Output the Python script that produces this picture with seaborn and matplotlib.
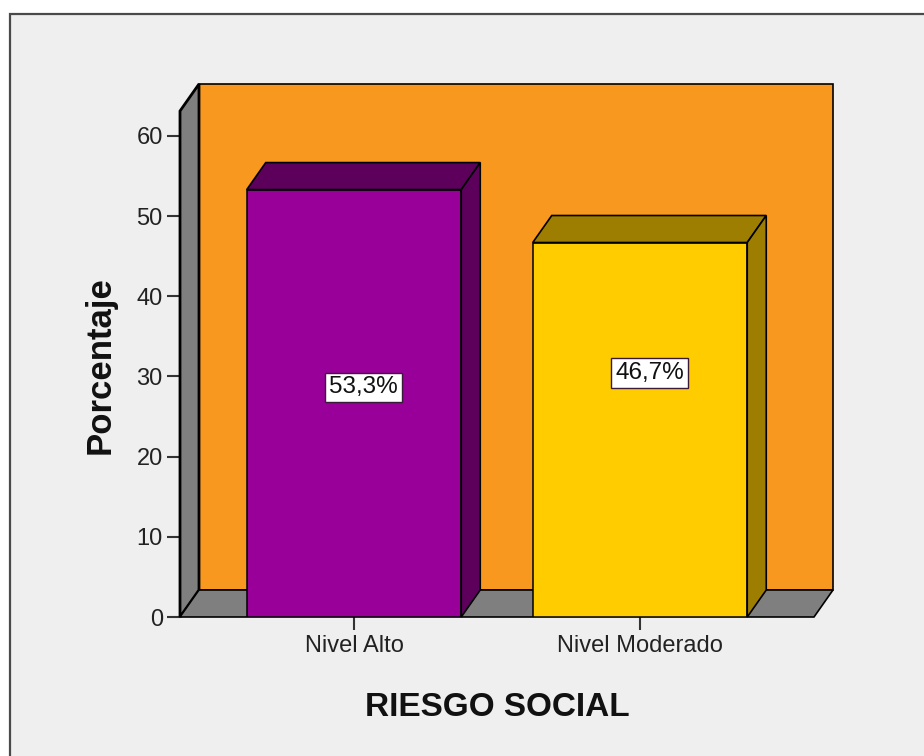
import matplotlib
matplotlib.use("Agg")
import matplotlib.pyplot as plt
from matplotlib.patches import Polygon, Rectangle
import seaborn as sns
import pandas as pd

categories = ["Nivel Alto", "Nivel Moderado"]
percentages = [53.3, 46.7]
value_labels = ["53,3%", "46,7%"]
label_height_frac = [0.537, 0.651]
yticks = [0, 10, 20, 30, 40, 50, 60]
bar_colors = ["#990099", "#ffcc00"]
bar_shade = ["#5c005c", "#9e7e00"]

sns.set_style("white")
plt.rcParams["font.family"] = ["Liberation Sans", "DejaVu Sans"]

W, H = 924, 756
fig = plt.figure(figsize=(W / 100, H / 100), dpi=100, facecolor="white")
# outer panel frame
fig.patches.append(Rectangle((10 / W, -0.02), 1.05, (H - 14) / H + 0.02,
                             transform=fig.transFigure, facecolor="#efefef",
                             edgecolor="#4a4a4a", linewidth=1.6, zorder=-10))

ax = fig.add_axes([180 / W, (H - 617) / H, 634 / W, 506 / H])
ax.patch.set_visible(False)
xmin, xmax = -0.6084, 1.6084
ymax = 63.1

# depth of the 3D effect in data units (19 px right, 27 px up)
ddx = 19 / (634 / (xmax - xmin))
ddy = 27 / (506 / ymax)

df = pd.DataFrame({"cat": categories, "pct": percentages})
sns.barplot(data=df, x="cat", y="pct", hue="cat", palette=bar_colors,
            width=0.75, edgecolor="black", linewidth=1.1, legend=False,
            ax=ax, saturation=1)
ax.set_xlim(xmin, xmax)
ax.set_ylim(0, ymax)

edge_kw = dict(edgecolor="black", linewidth=1.2, clip_on=False)
# back wall
ax.add_patch(Polygon([(xmin + ddx, ddy), (xmax + ddx, ddy), (xmax + ddx, ymax + ddy),
                      (xmin + ddx, ymax + ddy)], closed=True, facecolor="#f8981e",
                     zorder=0.5, **edge_kw))
# left wall
ax.add_patch(Polygon([(xmin, 0), (xmin, ymax), (xmin + ddx, ymax + ddy), (xmin + ddx, ddy)],
                     closed=True, facecolor="#7f7f7f", zorder=0.6,
                     edgecolor="black", linewidth=2.0, clip_on=False))
# floor
ax.add_patch(Polygon([(xmin, 0), (xmax, 0), (xmax + ddx, ddy), (xmin + ddx, ddy)],
                     closed=True, facecolor="#7f7f7f", zorder=0.6, **edge_kw))

for i, p in enumerate(ax.patches[:len(categories)]):
    p.set_zorder(2)
    x0 = p.get_x()
    x1 = x0 + p.get_width()
    h = p.get_height()
    ax.add_patch(Polygon([(x0, h), (x1, h), (x1 + ddx, h + ddy), (x0 + ddx, h + ddy)],
                         closed=True, facecolor=bar_shade[i], zorder=2.1, **edge_kw))
    ax.add_patch(Polygon([(x1, 0), (x1, h), (x1 + ddx, h + ddy), (x1 + ddx, ddy)],
                         closed=True, facecolor=bar_shade[i], zorder=2.1, **edge_kw))
    ax.text(x0 + p.get_width() / 2 + ddx / 2, h * label_height_frac[i], value_labels[i],
            ha="center", va="center", fontsize=17.5, color="#111111", zorder=3,
            bbox=dict(boxstyle="square,pad=0.16", facecolor="white",
                      edgecolor="#3a1a3a", linewidth=1.0))

for s in ax.spines.values():
    s.set_visible(False)

ax.set_yticks(yticks)
ax.set_yticklabels([str(t) for t in yticks])
ax.tick_params(axis="y", left=True, length=9.4, width=1.5, color="#333333",
               labelsize=17, labelcolor="#222222", pad=3)
ax.tick_params(axis="x", bottom=True, length=9, width=1.5, color="#333333",
               labelsize=17, labelcolor="#222222", pad=4)

ax.set_xlabel("RIESGO SOCIAL", fontsize=24, fontweight="bold", color="#111111")
ax.xaxis.set_label_coords(0.5, -0.178)
ax.xaxis.label.set_va("center")
ax.set_ylabel("Porcentaje", fontsize=25, fontweight="bold", color="#111111")
ax.yaxis.set_label_coords(-0.126, 0.498)
ax.yaxis.label.set_va("center")

fig.savefig("out.png", dpi=100, facecolor="white")
